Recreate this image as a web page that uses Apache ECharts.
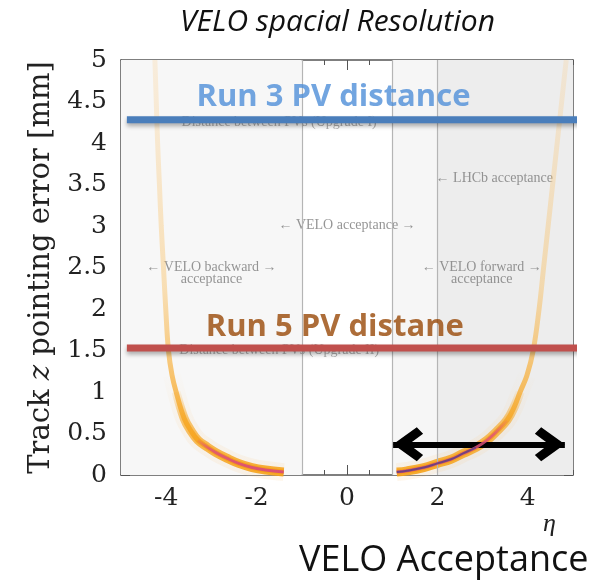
<!DOCTYPE html>
<html><head><meta charset="utf-8">
<script src="https://cdn.jsdelivr.net/npm/echarts@6/dist/echarts.min.js"></script>
<style>html,body{margin:0;padding:0;background:#fff}#c{width:596px;height:584px}</style>
</head><body><div id="c"></div>
<script>
// ---- data ----
const etaLabelTicks = [-4, -2, 0, 2, 4];
const errTicks = [0, 0.5, 1, 1.5, 2, 2.5, 3, 3.5, 4, 4.5, 5];
// left (backward) branch of the resolution band
const leftEta = [-4.25, -4.22, -4.19, -4.15, -4.11, -4.06, -4.01, -3.95, -3.87, -3.78, -3.6, -3.45, -3.3, -3.1, -2.9, -2.65, -2.4, -2.1, -1.8, -1.4];
const leftErr = [5.0, 4.5, 4.0, 3.5, 3.0, 2.5, 2.0, 1.5, 1.2, 1.0, 0.68, 0.53, 0.42, 0.34, 0.27, 0.2, 0.14, 0.09, 0.06, 0.035];
// right (forward) branch
const rightEta = [4.85, 4.75, 4.65, 4.55, 4.45, 4.35, 4.25, 4.12, 3.98, 3.83, 3.7, 3.54, 3.3, 3.1, 2.85, 2.57, 2.3, 2.0, 1.7, 1.33, 1.1];
const rightErr = [5.0, 4.5, 4.0, 3.5, 3.0, 2.5, 2.0, 1.5, 1.2, 1.0, 0.82, 0.66, 0.52, 0.42, 0.33, 0.26, 0.19, 0.14, 0.09, 0.05, 0.035];
// acceptance regions and boundaries
const regionEdges = [-5, -1, 1, 2, 5];
const boundaryEta = [-1, 1, 2];
// PV distance lines
const run3Dist = 4.28;
const run5Dist = 1.53;
const pvLineEta = [-4.87, 5.15];
// double arrow (VELO acceptance), tips
const arrowEta = [1.02, 4.82];
const arrowErr = 0.37;

const serif = 'DejaVu Serif';
const lserif = 'Liberation Serif';
const sans = 'Open Sans';

function pairs(xs, ys, maxY) {
  const out = [];
  for (let i = 0; i < xs.length; i++) if (maxY === undefined || ys[i] <= maxY) out.push([xs[i], ys[i]]);
  return out;
}
const LG = (stops) => new echarts.graphic.LinearGradient(0, 0, 0, 1, stops.map(s => ({ offset: s[0], color: s[1] })));

const chart = echarts.init(document.getElementById('c'));
// chevron pointing "up", padded so the tip sits at the symbol centre
const chevron = 'path://M12,-19 L12.1,-19 L12,-18.9 Z M12,0 L24,15 L19.5,19 L12,10 L4.5,19 L0,15 Z';

function bandSeries(xs, ys, coreMax) {
  return [
    { type: 'line', data: pairs(xs, ys, 1.3), smooth: 0.4, symbol: 'none', silent: true, z: 3,
      lineStyle: { width: 18, color: LG([[0, 'rgba(250,195,120,0)'], [0.5, 'rgba(250,195,120,0.10)'], [1, 'rgba(250,195,120,0.14)']]) } },
    { type: 'line', data: pairs(xs, ys), smooth: 0.4, symbol: 'none', silent: true, z: 4,
      lineStyle: { width: 5, color: LG([[0, 'rgba(250,205,140,0.25)'], [0.55, 'rgba(249,185,80,0.4)'], [0.8, 'rgba(247,170,45,0.75)'], [1, 'rgba(245,160,20,0.95)']]) } },
    { type: 'line', data: pairs(xs, ys, 1.1), smooth: 0.4, symbol: 'none', silent: true, z: 4,
      lineStyle: { width: 9, color: LG([[0, 'rgba(246,165,30,0)'], [0.35, 'rgba(246,165,30,0.6)'], [1, 'rgba(246,160,20,0.9)']]) } },
    { type: 'line', data: pairs(xs, ys, coreMax), smooth: 0.4, symbol: 'none', silent: true, z: 5,
      lineStyle: { width: 3, color: LG([[0, 'rgba(222,80,120,0)'], [0.3, 'rgba(222,80,120,0.8)'], [1, 'rgba(215,70,125,0.9)']]) } }
  ];
}

function textPoint(eta, err, text, style) {
  return { type: 'scatter', data: [[eta, err]], symbolSize: 0, silent: true, z: style.z || 8,
    label: Object.assign({ show: true, position: 'inside', formatter: text }, style) };
}

const grey = '#7a7a7a';
const tickStyle = { color: '#555' };
const option = {
  animation: false,
  title: { text: 'VELO spacial Resolution', left: 175, top: 2,
    textStyle: { fontFamily: sans, fontStyle: 'italic', fontWeight: 'normal', fontSize: 30, color: '#111' } },
  grid: { left: 121, right: 23, top: 60, bottom: 109, show: false },
  xAxis: [
    { type: 'value', min: -5, max: 5, interval: 0.5, position: 'bottom',
      axisLine: { show: true, onZero: false, lineStyle: { color: '#555', width: 1.5 } },
      axisTick: { show: true, inside: true, length: 5, lineStyle: tickStyle },
      axisLabel: { customValues: etaLabelTicks, fontFamily: serif, fontSize: 25, color: '#222', margin: 11 },
      splitLine: { show: false } },
    { type: 'value', min: -5, max: 5, interval: 0.5, position: 'top',
      axisLine: { show: true, onZero: false, lineStyle: { color: '#555', width: 1.5 } },
      axisTick: { show: true, inside: true, length: 5, lineStyle: tickStyle },
      axisLabel: { show: false }, splitLine: { show: false } },
    { type: 'value', min: -5, max: 5, position: 'bottom',
      axisLine: { show: false, onZero: false }, axisLabel: { show: false }, splitLine: { show: false },
      axisTick: { show: true, inside: true, length: 10, customValues: etaLabelTicks, lineStyle: tickStyle } },
    { type: 'value', min: -5, max: 5, position: 'top',
      axisLine: { show: false, onZero: false }, axisLabel: { show: false }, splitLine: { show: false },
      axisTick: { show: true, inside: true, length: 10, customValues: etaLabelTicks, lineStyle: tickStyle } }
  ],
  yAxis: [
    { type: 'value', min: 0, max: 5, interval: 0.5, position: 'left',
      name: 'Track {i|z} pointing error [mm]', nameLocation: 'middle', nameGap: 64,
      nameTextStyle: { fontFamily: serif, fontSize: 29, color: '#222',
        rich: { i: { fontFamily: serif, fontStyle: 'italic', fontSize: 29, color: '#222' } } },
      axisLine: { show: true, onZero: false, lineStyle: { color: '#555', width: 1.5 } },
      axisTick: { show: true, inside: true, length: 9, lineStyle: tickStyle },
      minorTick: { show: true, splitNumber: 5, length: 5, lineStyle: tickStyle },
      axisLabel: { customValues: errTicks, fontFamily: serif, fontSize: 25, color: '#222', margin: 14 },
      splitLine: { show: false } },
    { type: 'value', min: 0, max: 5, interval: 0.5, position: 'right',
      axisLine: { show: true, onZero: false, lineStyle: { color: '#555', width: 1.5 } },
      axisTick: { show: true, inside: true, length: 9, lineStyle: tickStyle },
      minorTick: { show: true, splitNumber: 5, length: 5, lineStyle: tickStyle },
      axisLabel: { show: false }, splitLine: { show: false } }
  ],
  graphic: [
    { type: 'text', left: 543, top: 511, style: { text: 'η', font: 'italic 26px "Liberation Serif"', fill: '#222' } },
    { type: 'text', left: 299, top: 543, style: { text: 'VELO Acceptance', font: '36px "Open Sans"', fill: '#111' } }
  ],
  series: [
    { type: 'line', data: [], silent: true, z: 1,
      markArea: { silent: true, data: [
        [{ xAxis: regionEdges[0], itemStyle: { color: '#f7f7f7' } }, { xAxis: regionEdges[1] }],
        [{ xAxis: regionEdges[2], itemStyle: { color: '#f6f6f6' } }, { xAxis: regionEdges[3] }],
        [{ xAxis: regionEdges[3], itemStyle: { color: '#ededed' } }, { xAxis: regionEdges[4] }]
      ] },
      markLine: { silent: true, symbol: 'none', label: { show: false },
        lineStyle: { color: '#b5b5b5', width: 1.2, type: 'solid' },
        data: boundaryEta.map(v => ({ xAxis: v })) } },
    ...bandSeries(leftEta, leftErr, 0.45),
    ...bandSeries(rightEta, rightErr, 0.7),
    { type: 'line', data: pairs(rightEta, rightErr, 0.4).filter(p => p[0] < 3.3), smooth: 0.4, symbol: 'none', silent: true, z: 6,
      lineStyle: { color: 'rgba(70,60,130,0.7)', width: 2 } },
    textPoint(-3.0, 2.43, '← VELO backward →\nacceptance', { fontFamily: lserif, fontSize: 14, color: grey, lineHeight: 12, z: 2 }),
    textPoint(0, 3.01, '← VELO acceptance →', { fontFamily: lserif, fontSize: 14, color: grey, z: 2 }),
    textPoint(2.98, 2.43, '← VELO forward →\nacceptance', { fontFamily: lserif, fontSize: 14, color: grey, lineHeight: 12, z: 2 }),
    textPoint(1.96, 3.57, '← LHCb acceptance', { fontFamily: lserif, fontSize: 14, color: grey, position: 'right', distance: 0, z: 2 }),
    textPoint(-1.5, 4.245, 'Distance between PVs (Upgrade I)', { fontFamily: lserif, fontSize: 14, color: '#999', z: 2 }),
    textPoint(-1.5, 1.5, 'Distance between PVs (Upgrade II)', { fontFamily: lserif, fontSize: 14, color: '#999', z: 2 }),
    { type: 'line', data: pvLineEta.map(v => [v, run3Dist]), symbol: 'none', silent: true, clip: false, z: 9,
      lineStyle: { color: '#4a7ebb', width: 7, cap: 'butt', shadowColor: 'rgba(0,0,0,0.3)', shadowBlur: 4, shadowOffsetY: 3 } },
    { type: 'line', data: pvLineEta.map(v => [v, run5Dist]), symbol: 'none', silent: true, clip: false, z: 9,
      lineStyle: { color: '#c0504d', width: 7, cap: 'butt', shadowColor: 'rgba(0,0,0,0.3)', shadowBlur: 4, shadowOffsetY: 3 } },
    textPoint(-0.3, 4.55, 'Run 3 PV distance', { fontFamily: sans, fontWeight: 'bold', fontSize: 31, color: '#4f8fd8', z: 10 }),
    textPoint(-0.27, 1.78, 'Run 5 PV distane', { fontFamily: sans, fontWeight: 'bold', fontSize: 31, color: '#984807', z: 10 }),
    { type: 'line', data: [], silent: true, z: 11,
      markLine: { silent: true, symbol: [chevron, chevron], symbolSize: [34, 60],
        label: { show: false }, lineStyle: { color: '#000', width: 6, type: 'solid', opacity: 1 },
        data: [[{ coord: [arrowEta[0], arrowErr] }, { coord: [arrowEta[1], arrowErr] }]] } }
  ]
};
chart.setOption(option);
</script></body></html>
